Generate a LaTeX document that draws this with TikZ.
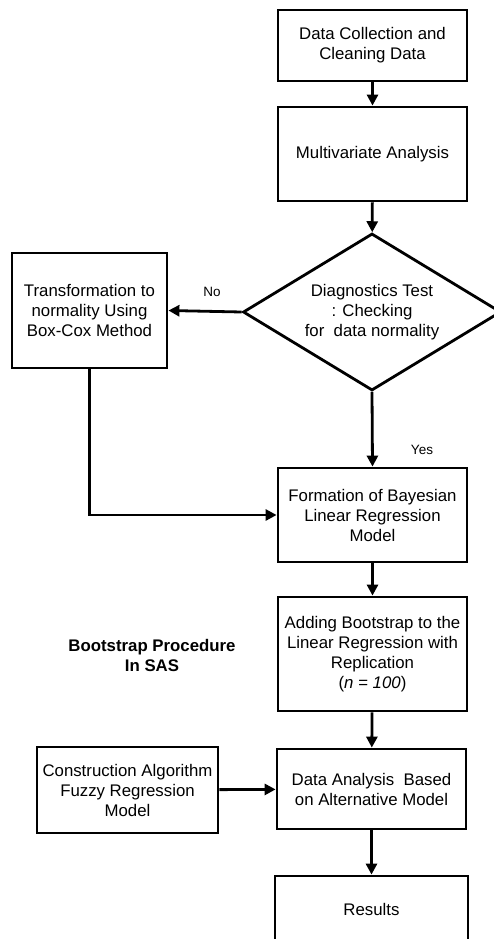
\documentclass[tikz,border=0pt]{standalone}
\usepackage{fontspec}
\setmainfont{Liberation Sans}
\usetikzlibrary{arrows.meta,shapes.geometric}

\begin{document}
\begin{tikzpicture}[x=1pt, y=-1pt, >={Triangle[length=11pt,width=11pt]},
	every node/.style={font=\fontsize{16.8}{20}\selectfont},
	box/.style={draw, line width=2.8pt, align=center, inner sep=0pt, minimum width=189pt},
	decision/.style={draw, diamond, aspect=1.64, line width=2.8pt, align=center, inner sep=0pt},
	answer/.style={font=\fontsize{13.5}{16}\selectfont},
	flow/.style={->, line width=2.8pt}]
	\clip (0,0) rectangle (494,939);
	\node[box, minimum height=71pt] (collect) at (372.5,45.5) {Data Collection and\\Cleaning Data};
	\node[box, minimum height=94pt] (multi) at (372.5,154) {Multivariate Analysis};
	\node[decision, minimum width=258pt, minimum height=157pt] (diag) at (372,312) {Diagnostics Test\\: Checking\\for\ \ data normality};
	\node[box, minimum width=155pt, minimum height=115pt] (transf) at (89.5,310.5) {Transformation to\\normality Using\\Box-Cox Method};
	\node[box, minimum height=94pt] (formation) at (372.5,515) {Formation of Bayesian\\Linear Regression\\Model};
	\node[box, minimum height=114pt] (adding) at (372.5,654) {Adding Bootstrap to the\\Linear Regression with\\Replication\\(\textit{n = 100})};
	\node[box, minimum height=80pt] (analysis) at (371.5,789) {Data Analysis\ \ Based\\on Alternative Model};
	\node[box, minimum width=181pt, minimum height=86pt] (constr) at (127.5,790) {Construction Algorithm\\Fuzzy Regression\\Model};
	\node[box, minimum width=193pt, minimum height=66pt] (results) at (371.5,909) {Results};
	\node[font=\bfseries\fontsize{16.8}{20}\selectfont, align=center] (sas) at (152,655) {Bootstrap Procedure\\In SAS};
	\node[answer] (no) at (212,292) {No};
	\node[answer] (yes) at (422,450) {Yes};
	% main column
	\draw[flow] (collect) -- (multi);
	\draw[flow] (multi) -- (diag);
	\draw[flow] (diag.west) -- (transf.east);
	\draw[flow] (diag.south) -- (formation.north);
	\draw[flow] (transf.south) |- (formation.west);
	\draw[flow] (formation) -- (adding);
	\draw[flow] (adding) -- (analysis);
	\draw[flow] (constr) -- (analysis);
	\draw[flow] (analysis) -- (results);
\end{tikzpicture}
\end{document}
